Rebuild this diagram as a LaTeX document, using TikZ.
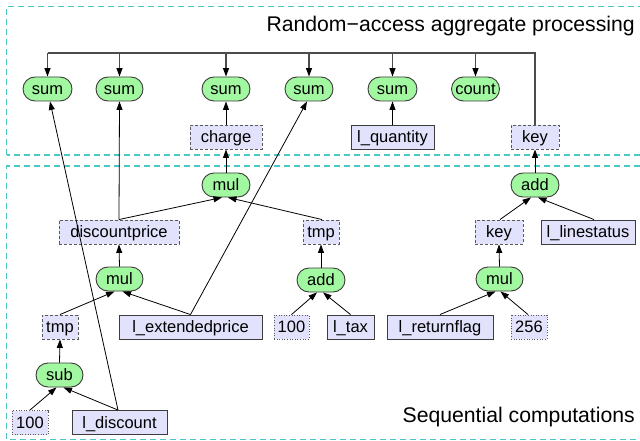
\documentclass[tikz,border=0pt]{standalone}
\usepackage{fontspec}
\setmainfont{Liberation Sans}
\usetikzlibrary{arrows.meta,shapes.misc}
\definecolor{opgreen}{RGB}{162,248,160}
\definecolor{varfill}{RGB}{226,226,252}
\definecolor{zoneline}{RGB}{74,200,198}
\definecolor{edgegray}{RGB}{60,60,60}
\tikzset{
  base/.style={inner sep=0pt, minimum height=24pt,
    font=\fontsize{16.5}{19}\selectfont, text height=11.8pt, text depth=0pt,
    line width=0.9pt},
  opnode/.style={base, rounded rectangle, fill=opgreen, draw=edgegray},
  colnode/.style={base, rectangle, fill=varfill, draw=edgegray},
  tmpnode/.style={base, rectangle, fill=varfill, draw=edgegray!85, dash pattern=on 3pt off 2pt},
  constnode/.style={base, rectangle, fill=varfill, draw=edgegray!85, dash pattern=on 1pt off 1.6pt},
  arr/.style={-{Triangle[length=8.5pt,width=6pt,color=black]}, line width=0.8pt, black},
  busline/.style={line width=1.2pt, draw=black!70},
  busarr/.style={busline, -{Triangle[length=8.5pt,width=6pt,color=black]}},
  zone/.style={draw=zoneline, line width=1.3pt, dash pattern=on 6pt off 4pt},
  caption/.style={font=\fontsize{21.2}{25}\selectfont, inner sep=0pt, anchor=base east},
}
\begin{document}
\begin{tikzpicture}[x=1pt,y=-1pt]
\useasboundingbox (0,0) rectangle (640,441);

% the two zones
\draw[zone] (6.7,155) -- (6.7,6.5) -- (660,6.5);
\draw[zone] (660,155) -- (6.7,155);
\draw[zone] (660,166) -- (6.7,166) -- (6.7,439.5) -- (660,439.5);
\node[caption] (capA) at (635,31.7) {Random−access aggregate processing};
\node[caption] (capS) at (635,422.7) {Sequential computations};

% aggregates
\node[opnode, minimum width=49pt] (s1) at (47.5,89) {sum};
\node[opnode, minimum width=47pt] (s2) at (119.5,89) {sum};
\node[opnode, minimum width=48pt] (s3) at (226,89) {sum};
\node[opnode, minimum width=48pt] (s4) at (309,89) {sum};
\node[opnode, minimum width=49pt] (s5) at (392.5,89) {sum};
\node[opnode, minimum width=48pt] (cnt) at (475.5,89) {count};
\node[tmpnode, minimum width=72pt] (charge) at (226,137) {charge};
\node[colnode, minimum width=83pt] (lq) at (392.5,137) {l\_quantity};
\node[tmpnode, minimum width=48pt] (keyT) at (535,137) {key};

% sequential part
\node[opnode, minimum width=48pt] (mulT) at (226,185) {mul};
\node[opnode, minimum width=48pt] (addR) at (535,185) {add};
\node[tmpnode, minimum width=120pt] (dp) at (119,232) {discountprice};
\node[tmpnode, minimum width=36pt] (tmpR) at (321,232) {tmp};
\node[tmpnode, minimum width=48pt] (keyB) at (499,232) {key};
\node[colnode, minimum width=94pt] (lls) at (588,232) {l\_linestatus};
\node[opnode, minimum width=47pt] (mulM) at (119.5,279) {mul};
\node[opnode, minimum width=48pt] (addM) at (321,280) {add};
\node[opnode, minimum width=47pt] (mulR) at (499.5,279) {mul};
\node[tmpnode, minimum width=36pt] (tmpL) at (60,327) {tmp};
\node[colnode, minimum width=143pt] (lep) at (190.5,327) {l\_extendedprice};
\node[constnode, minimum width=35pt] (cA) at (291.5,327) {100};
\node[colnode, minimum width=47pt] (ltax) at (350.5,327) {l\_tax};
\node[colnode, minimum width=106pt] (lrf) at (440,327) {l\_returnflag};
\node[constnode, minimum width=36pt] (c256) at (529,327) {256};
\node[opnode, minimum width=47pt] (sub) at (59.5,375) {sub};
\node[constnode, minimum width=36pt] (cB) at (30,422.5) {100};
\node[colnode, minimum width=95pt] (ldis) at (119.5,422.5) {l\_discount};

% grouping key bus
\coordinate (busR) at (535,53);
\coordinate (busL) at (47.5,53);
\draw[busline] (keyT.north) -- (busR) -- (busL);
\foreach \t in {s1,s2,s3,s4,s5,cnt}
  \draw[busarr] (\t.north |- busL) -- (\t.north);

% data flow
\draw[arr] ([xshift=-1.5pt]ldis.north) -- ([xshift=2.5pt]s1.south);
\draw[arr] (dp.north) -- (s2.south);
\draw[arr] (charge.north) -- (s3.south);
\draw[arr] (lep.north) -- ([xshift=-2pt]s4.south);
\draw[arr] (lq.north) -- (s5.south);
\draw[arr] (mulT.north) -- (charge.south);
\draw[arr] (dp.north) -- ([xshift=-4pt]mulT.south);
\draw[arr] ([xshift=1pt]tmpR.north) -- ([xshift=2pt]mulT.south);
\draw[arr] (mulM.north) -- (dp.south);
\draw[arr] (tmpL.north) -- ([xshift=-5pt]mulM.south);
\draw[arr] (lep.north) -- ([xshift=3pt]mulM.south);
\draw[arr] (sub.north) -- (tmpL.south);
\draw[arr] (cB.north) -- ([xshift=-3pt]sub.south);
\draw[arr] ([xshift=-1.5pt]ldis.north) -- ([xshift=4pt]sub.south);
\draw[arr] (addM.north) -- (tmpR.south);
\draw[arr] (cA.north) -- ([xshift=-4pt]addM.south);
\draw[arr] (ltax.north) -- ([xshift=2pt]addM.south);
\draw[arr] (mulR.north) -- (keyB.south);
\draw[arr] (lrf.north) -- ([xshift=-4pt]mulR.south);
\draw[arr] ([xshift=-1pt]c256.north) -- ([xshift=1pt]mulR.south);
\draw[arr] ([xshift=1pt]keyB.north) -- ([xshift=-4pt]addR.south);
\draw[arr] ([xshift=6pt]lls.north) -- ([xshift=3pt]addR.south);
\draw[arr] (addR.north) -- (keyT.south);
\end{tikzpicture}
\end{document}
